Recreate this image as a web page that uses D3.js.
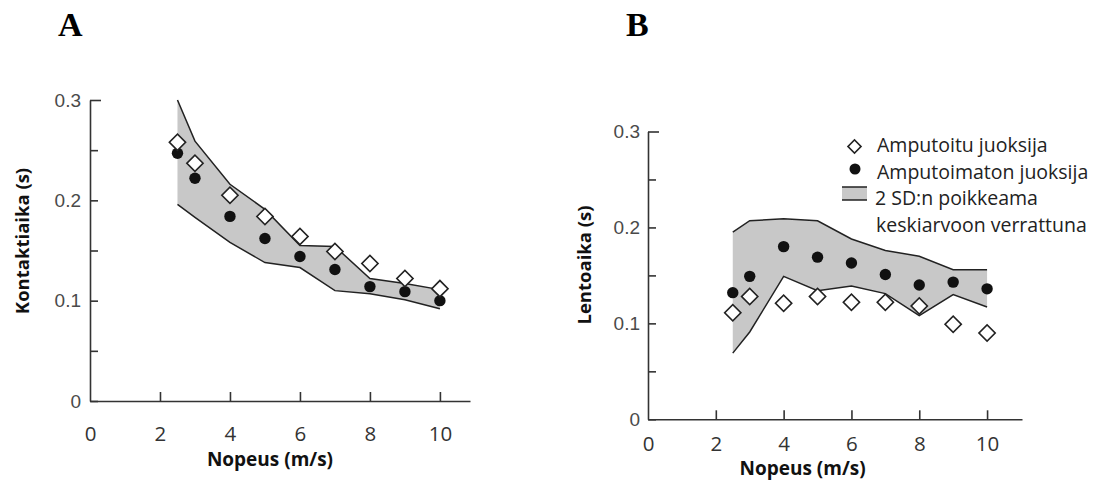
<!DOCTYPE html>
<html>
<head>
<meta charset="utf-8">
<script src="https://cdn.jsdelivr.net/npm/d3@7"></script>
<style>
  body { margin: 0; background: #fff; }
  svg { display: block; }
  .tick line, .domain { stroke: #333; stroke-width: 1.6; }
</style>
</head>
<body>
<div id="chart"></div>
<script>
const width = 1098;
const height = 482;

// speeds (m/s)
const speed = [2.5, 3, 4, 5, 6, 7, 8, 9, 10];

// A: contact time (s)
const contactAmputee = [0.258, 0.237, 0.205, 0.184, 0.164, 0.149, 0.137, 0.122, 0.112];
const contactControl = [0.247, 0.222, 0.184, 0.162, 0.144, 0.131, 0.114, 0.109, 0.100];
const contactUpper = [0.300, 0.259, 0.216, 0.191, 0.155, 0.154, 0.122, 0.117, 0.111];
const contactLower = [0.196, 0.183, 0.158, 0.138, 0.133, 0.110, 0.107, 0.101, 0.092];

// B: flight time (s)
const flightAmputee = [0.111, 0.128, 0.121, 0.128, 0.122, 0.122, 0.118, 0.099, 0.090];
const flightControl = [0.132, 0.149, 0.180, 0.169, 0.163, 0.151, 0.140, 0.143, 0.136];
const flightUpper = [0.195, 0.207, 0.209, 0.207, 0.188, 0.176, 0.170, 0.156, 0.156];
const flightLower = [0.069, 0.091, 0.149, 0.134, 0.139, 0.131, 0.108, 0.130, 0.117];

const xTicks = [0, 2, 4, 6, 8, 10];
const yTicks = [0, 0.05, 0.1, 0.15, 0.2, 0.25, 0.3];
const yLabels = ["0", "", "0.1", "", "0.2", "", "0.3"];

const legendLabels = ["Amputoitu juoksija", "Amputoimaton juoksija", "2 SD:n poikkeama", "keskiarvoon verrattuna"];

const svg = d3.select("#chart").append("svg")
  .attr("width", width)
  .attr("height", height);

const diamond = d3.symbol().type(d3.symbolSquare);

function drawPanel(p) {
  const x = d3.scaleLinear().domain([0, p.xMax]).range([p.left, p.right]);
  const y = d3.scaleLinear().domain([0, 0.3]).range([p.bottom, p.top]);
  const g = svg.append("g");

  const rows = speed.map((s, i) => ({ s, a: p.amputee[i], c: p.control[i], hi: p.upper[i], lo: p.lower[i] }));

  // 2 SD band
  g.append("path")
    .datum(rows)
    .attr("d", d3.area().x(d => x(d.s)).y0(d => y(d.lo)).y1(d => y(d.hi)))
    .attr("fill", "#c8c8c8");
  ["hi", "lo"].forEach(k => {
    g.append("path")
      .datum(rows)
      .attr("d", d3.line().x(d => x(d.s)).y(d => y(d[k])))
      .attr("fill", "none")
      .attr("stroke", "#222")
      .attr("stroke-width", 1.5);
  });

  // axes, ticks pointing inward
  const ya = g.append("g")
    .attr("transform", `translate(${p.left},0)`)
    .call(d3.axisLeft(y).tickValues(yTicks).tickSizeInner(-8).tickSizeOuter(0)
      .tickPadding(p.yPad).tickFormat((d, i) => yLabels[i]));
  ya.selectAll("text")
    .attr("font-family", "Liberation Sans, Arial, sans-serif")
    .attr("font-size", 19)
    .attr("fill", "#4a4a4a");
  ya.selectAll(".tick").filter(d => d === 0.3).select("line").attr("x2", 11);

  const xa = g.append("g")
    .attr("transform", `translate(0,${p.bottom})`)
    .call(d3.axisBottom(x).tickValues(xTicks).tickSizeInner(-9).tickSizeOuter(0)
      .tickPadding(p.xPad).tickFormat(d3.format("d")));
  xa.selectAll("text")
    .attr("font-family", "Open Sans, sans-serif")
    .attr("font-size", 20.5)
    .attr("fill", "#333");
  xa.selectAll(".tick").filter(d => d === 0).select("line").remove();

  // points
  g.selectAll(".ctl")
    .data(rows)
    .join("circle")
    .attr("cx", d => x(d.s))
    .attr("cy", d => y(d.c))
    .attr("r", 5.7)
    .attr("fill", "#111");

  g.selectAll(".amp")
    .data(rows)
    .join("path")
    .attr("d", diamond.size(132))
    .attr("transform", d => `translate(${x(d.s)},${y(d.a)}) rotate(45)`)
    .attr("fill", "#fff")
    .attr("stroke", "#222")
    .attr("stroke-width", 1.6);

  // titles
  g.append("text")
    .attr("x", (p.left + x(10)) / 2 + p.xTitleShift)
    .attr("y", p.xTitleY)
    .attr("text-anchor", "middle")
    .attr("font-family", "Open Sans, sans-serif")
    .attr("font-weight", "bold")
    .attr("font-size", 19)
    .attr("fill", "#111")
    .text("Nopeus (m/s)");

  g.append("text")
    .attr("transform", `translate(${p.yTitleX},${p.yTitleY}) rotate(-90)`)
    .attr("text-anchor", "middle")
    .attr("dy", "0.35em")
    .attr("font-family", "Open Sans, sans-serif")
    .attr("font-weight", "bold")
    .attr("font-size", 18.5)
    .attr("fill", "#111")
    .text(p.yTitle);

  svg.append("text")
    .attr("x", p.letterX)
    .attr("y", 36)
    .attr("font-family", "Liberation Serif, Times New Roman, serif")
    .attr("font-weight", "bold")
    .attr("font-size", 34)
    .attr("fill", "#000")
    .text(p.letter);
}

drawPanel({
  letter: "A", letterX: 58,
  amputee: contactAmputee, control: contactControl, upper: contactUpper, lower: contactLower,
  left: 90, right: 470, top: 100, bottom: 401, xMax: 10.86,
  yPad: 9, xPad: 25,
  xTitleY: 466, xTitleShift: 5,
  yTitle: "Kontaktiaika (s)", yTitleX: 23, yTitleY: 241
});

drawPanel({
  letter: "B", letterX: 626,
  amputee: flightAmputee, control: flightControl, upper: flightUpper, lower: flightLower,
  left: 648, right: 1022, top: 131.5, bottom: 419.3, xMax: 11.03,
  yPad: 8, xPad: 17,
  xTitleY: 475, xTitleShift: -15,
  yTitle: "Lentoaika (s)", yTitleX: 585, yTitleY: 265
});

// legend (panel B)
const legend = svg.append("g").attr("font-family", "Open Sans, sans-serif").attr("font-size", 19.5).attr("fill", "#222");
legend.append("path")
  .attr("d", diamond.size(85))
  .attr("transform", "translate(854.5,146.5) rotate(45)")
  .attr("fill", "#fff").attr("stroke", "#222").attr("stroke-width", 1.6);
legend.append("circle").attr("cx", 855).attr("cy", 169).attr("r", 5.5).attr("fill", "#111");
legend.append("rect").attr("x", 842).attr("y", 187).attr("width", 25).attr("height", 13).attr("fill", "#c8c8c8");
[187, 200].forEach(yy => {
  legend.append("line").attr("x1", 842).attr("x2", 867).attr("y1", yy).attr("y2", yy)
    .attr("stroke", "#222").attr("stroke-width", 1.5);
});
const legendY = [145, 172, 198, 225];
const legendX = [877, 877, 875, 876];
legend.selectAll(".lt")
  .data(legendLabels)
  .join("text")
  .attr("x", (d, i) => legendX[i])
  .attr("y", (d, i) => legendY[i])
  .attr("dy", "0.35em")
  .text(d => d);
</script>
</body>
</html>
